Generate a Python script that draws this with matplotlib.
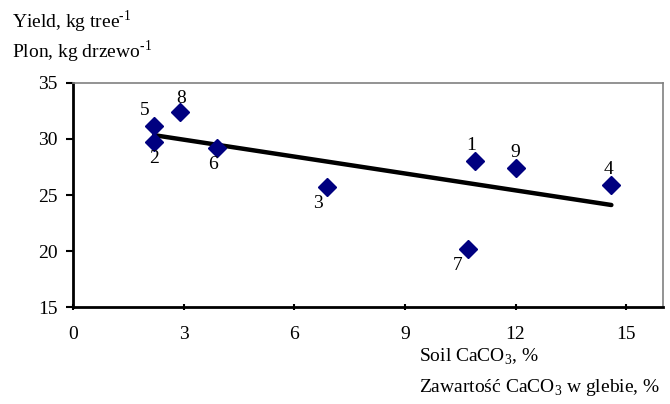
import numpy as np
import matplotlib
matplotlib.use("Agg")
import matplotlib.pyplot as plt

plt.rcParams['font.family'] = ['Liberation Serif', 'DejaVu Serif']
plt.rcParams['mathtext.fontset'] = 'custom'
plt.rcParams['mathtext.rm'] = 'Liberation Serif'

# dane
tree_no = ['1', '2', '3', '4', '5', '6', '7', '8', '9']
caco3 = [10.9, 2.2, 6.9, 14.6, 2.2, 3.9, 10.7, 2.9, 12.0]
yield_kg = [28.0, 29.7, 25.7, 25.9, 31.2, 29.2, 20.2, 32.4, 27.4]

# przesuniecia etykiet (punkty)
label_off = {
    '1': (-3, 5), '2': (0, -18), '3': (-7, -18), '4': (-2, 5), '5': (-7, 5),
    '6': (-3, -18), '7': (-7, -18), '8': (1, 4), '9': (0, 5),
}

fs = 14
fig = plt.figure(figsize=(6.7, 4.04), dpi=100)
ax = fig.add_axes([73 / 670, 1 - 307 / 404, (663 - 73) / 670, (307 - 83) / 404])

# linia trendu
a, b = np.polyfit(caco3, yield_kg, 1)
xs = np.array([min(caco3), max(caco3)])
ax.plot(xs, a * xs + b, color='black', lw=3.2, solid_capstyle='round', zorder=2)

ax.plot(caco3, yield_kg, 'D', color='#000080', markersize=9, zorder=3)
for t, x, y in zip(tree_no, caco3, yield_kg):
    ax.annotate(t, (x, y), xytext=label_off[t], textcoords='offset points',
                ha='center', va='bottom', fontsize=fs)

ax.set_xlim(0, 16)
ax.set_ylim(15, 35)
ax.set_xticks([0, 3, 6, 9, 12, 15])
ax.set_yticks([15, 20, 25, 30, 35])
ax.tick_params(axis='both', labelsize=fs, width=1.5, length=5)
ax.tick_params(axis='x', direction='inout', pad=11)
ax.tick_params(axis='y', direction='out', pad=6)
for s in ['left', 'bottom']:
    ax.spines[s].set_linewidth(2)
    ax.spines[s].set_color('black')
for s in ['top', 'right']:
    ax.spines[s].set_linewidth(1.2)
    ax.spines[s].set_color('#808080')

fig.text(12 / 670, 1 - 22 / 404, 'Yield, kg tree$^{\\text{-1}}$', fontsize=fs, va='center')
fig.text(12 / 670, 1 - 52 / 404, 'Plon, kg drzewo$^{\\text{-1}}$', fontsize=fs, va='center')
fig.text(419 / 670, 1 - 357 / 404, 'Soil CaCO$_3$, %', fontsize=fs, va='center')
fig.text(419 / 670, 1 - 387 / 404, 'Zawartość CaCO$_3$ w glebie, %', fontsize=fs, va='center')

fig.savefig('out.png', dpi=100)
